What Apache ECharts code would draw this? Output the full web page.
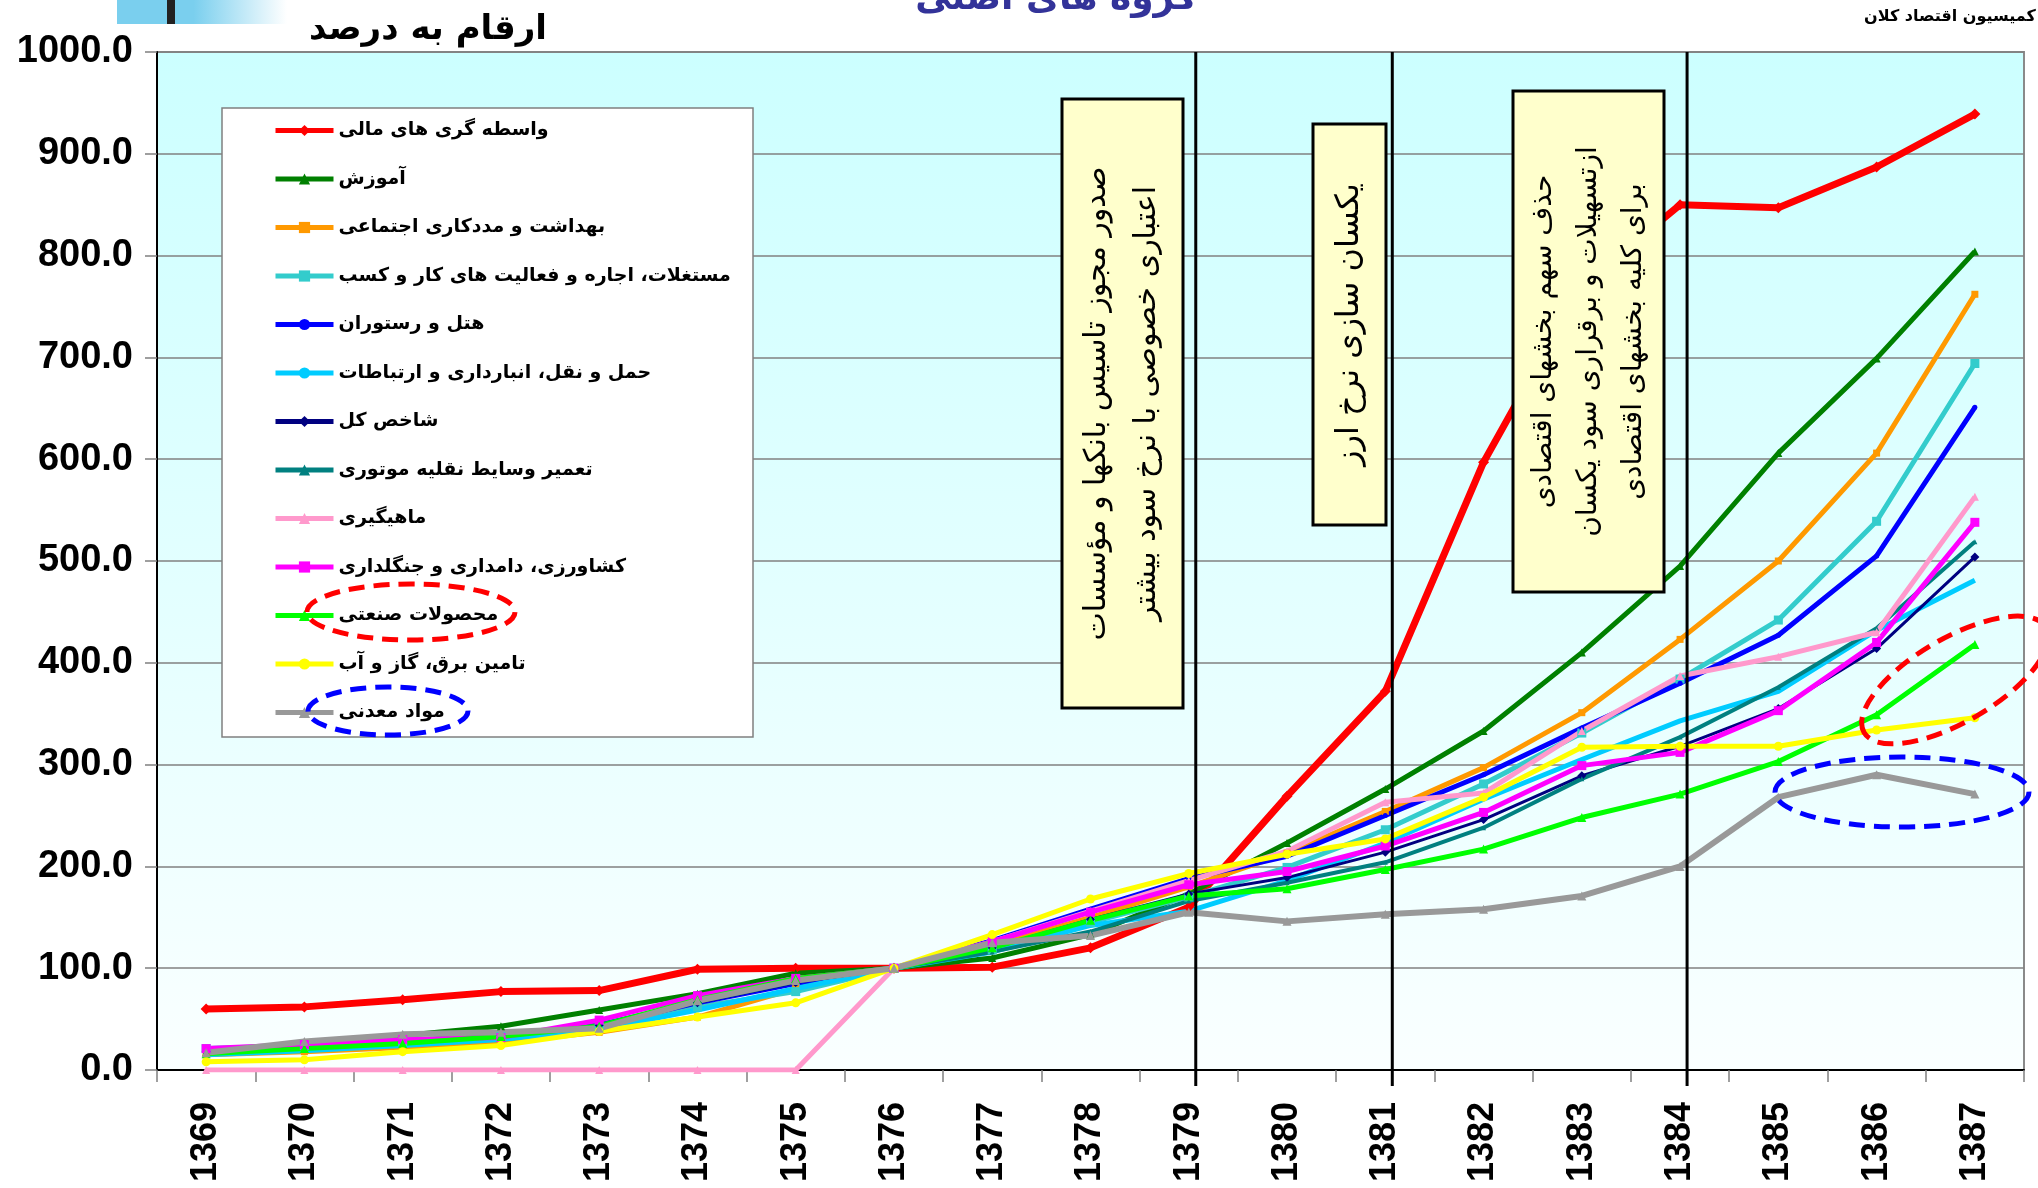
<!DOCTYPE html>
<html><head><meta charset="utf-8">
<script src="https://cdn.jsdelivr.net/npm/echarts@6/dist/echarts.min.js"></script>
<style>html,body{margin:0;padding:0;background:#fff}#c{width:2038px;height:1188px}</style>
</head><body><div id="c"></div>
<script>
const years = ['1369','1370','1371','1372','1373','1374','1375','1376','1377','1378','1379','1380','1381','1382','1383','1384','1385','1386','1387'];
const finance   = [60,62,69,77,78,99,100,100,101,120,160,269,372,597,770,850,847,887,939];
const education = [18,26,34,43,59,75,95,100,110,133,173,223,276,333,410,495,606,699,804];
const health    = [15,18,22,27,37,52,80,100,122,150,180,213,254,297,351,423,500,606,762];
const realEstate= [21,24,28,33,42,62,77,100,118,145,170,199,236,281,331,384,442,539,694];
const hotel     = [18,22,27,33,44,66,85,100,127,158,188,210,250,290,336,380,427,505,651];
const transport = [15,19,24,30,40,59,80,100,116,142,156,186,223,266,305,343,372,432,481];
const totalIdx  = [18,22,28,34,44,66,86,100,120,148,173,189,214,246,289,318,355,414,504];
const repair    = [18,23,29,35,45,67,87,100,116,136,166,184,204,238,286,327,376,434,519];
const fishing   = [0,0,0,0,0,0,0,100,126,156,186,215,263,272,333,387,406,430,563];
const agri      = [21,25,30,32,49,73,90,100,126,155,182,195,220,253,299,312,353,420,538];
const industry  = [16,21,26,33,43,69,90,100,120,147,171,178,197,217,248,271,303,349,418];
const utilities = [8,10,18,24,38,52,66,100,133,168,193,212,227,268,317,318,318,334,346];
const mining    = [17,28,35,37,41,68,88,100,125,132,155,146,153,158,171,200,268,290,271];
const yTicks = {min:0, max:1000, step:100};
const markYears = ['1379','1381','1384'];

const defs = [
 {name:'واسطه گری های مالی', data:finance, color:'#FF0000', w:7, sym:'diamond', size:11},
 {name:'آموزش', data:education, color:'#008000', w:5, sym:'triangle', size:8},
 {name:'بهداشت و مددکاری اجتماعی', data:health, color:'#FF9900', w:5, sym:'rect', size:7},
 {name:'مستغلات، اجاره و فعالیت های کار و کسب', data:realEstate, color:'#33CCCC', w:5, sym:'rect', size:9},
 {name:'هتل و رستوران', data:hotel, color:'#0000FF', w:5, sym:'circle', size:5},
 {name:'حمل و نقل، انبارداری و ارتباطات', data:transport, color:'#00CCFF', w:5, sym:'none', size:0},
 {name:'شاخص کل', data:totalIdx, color:'#000080', w:3, sym:'diamond', size:9},
 {name:'تعمیر وسایط نقلیه موتوری', data:repair, color:'#008080', w:4, sym:'triangle', size:5},
 {name:'ماهیگیری', data:fishing, color:'#FF99CC', w:5, sym:'triangle', size:8},
 {name:'کشاورزی، دامداری و جنگلداری', data:agri, color:'#FF00FF', w:5, sym:'rect', size:9},
 {name:'محصولات صنعتی', data:industry, color:'#00FF00', w:5, sym:'triangle', size:9},
 {name:'تامین برق، گاز و آب', data:utilities, color:'#FFFF00', w:5, sym:'circle', size:9},
 {name:'مواد معدنی', data:mining, color:'#999999', w:6, sym:'triangle', size:9}
];

const chart = echarts.init(document.getElementById('c'));
const AR = "'DejaVu Sans', sans-serif";

const series = defs.map((d,i)=>({
  name:d.name, type:'line', data:d.data,
  symbol:d.sym, symbolSize:d.size, showSymbol:d.sym!=='none',
  lineStyle:{color:d.color, width:d.w}, itemStyle:{color:d.color},
  emphasis:{disabled:true}, animation:false
}));

function dashedEllipse(cx,cy,rx,ry,rot,color){
  return {type:'ellipse', x:cx, y:cy, rotation:rot, shape:{cx:0,cy:0,rx:rx,ry:ry},
    style:{fill:'none', stroke:color, lineWidth:5, lineDash:[16,9]}, z:40};
}
function noteBox(x,y,w,h,text,fs,lh){
  return {type:'group', z:15, children:[
    {type:'rect', shape:{x:x,y:y,width:w,height:h}, style:{fill:'#FFFFCC', stroke:'#000', lineWidth:3}, z:15},
    {type:'text', x:x+w/2, y:y+h/2, rotation:Math.PI/2, z:16,
      style:{text:text, fontSize:fs, fontFamily:AR, align:'center', verticalAlign:'middle', lineHeight:lh, fill:'#000'}}
  ]};
}

const graphics = [
    {type:'rect', shape:{x:222,y:108,width:531,height:629}, style:{fill:'#fff', stroke:'#808080', lineWidth:1.5}, z:25},
    dashedEllipse(411,612,104,28,0,'#FF0000'),
    dashedEllipse(388,711,80,24,0,'#0000FF'),
    dashedEllipse(1955,680,105,42,Math.PI/6,'#FF0000'),
    dashedEllipse(1902,792,127,35,0,'#0000FF'),
    noteBox(1062,99,121,609,'صدور مجوز تاسیس بانکها و مؤسسات\nاعتباری خصوصی با نرخ سود بیشتر',30,50),
    noteBox(1313,124,73,401,'یکسان سازی نرخ ارز',32,40),
    noteBox(1513,91,151,501,'حذف سهم بخشهای اقتصادی\nازتسهیلات و برقراری سود یکسان\nبرای کلیه بخشهای اقتصادی',28,45),
    {type:'rect', shape:{x:117,y:0,width:170,height:24},
      style:{fill:new echarts.graphic.LinearGradient(0,0,1,0,[{offset:0,color:'#7ACFEE'},{offset:0.45,color:'#7ACFEE'},{offset:1,color:'#ffffff'}])}, z:1},
    {type:'rect', shape:{x:167,y:0,width:8,height:24}, style:{fill:'#222'}, z:2},
    {type:'text', x:428, y:30, z:5, style:{text:'ارقام به درصد', fontSize:34, fontWeight:'bold', fontFamily:AR, align:'center', verticalAlign:'middle', fill:'#000'}},
    {type:'text', x:1056, y:0, z:5, style:{text:'گروه های اصلی', fontSize:36, fontWeight:'bold', fontFamily:AR, align:'center', verticalAlign:'middle', fill:'#333399'}},
    {type:'text', x:1950, y:17, z:5, style:{text:'کمیسیون اقتصاد کلان', fontSize:16, fontWeight:'bold', fontFamily:AR, align:'center', verticalAlign:'middle', fill:'#000'}}
];

chart.setOption({
  animation:false,
  grid:{left:157, right:14, top:52, bottom:118, show:true,
    backgroundColor:new echarts.graphic.LinearGradient(0,0,0,1,[{offset:0,color:'#CCFFFF'},{offset:0.55,color:'#E4FFFF'},{offset:1,color:'#FAFFFF'}]),
    borderColor:'#8a8a8a', borderWidth:2},
  xAxis:{type:'category', data:years, boundaryGap:true,
    axisLine:{lineStyle:{color:'#000', width:2}},
    axisTick:{show:true, length:12, lineStyle:{color:'#808080', width:1.5}},
    axisLabel:{rotate:90, interval:0, margin:32, fontSize:36, fontWeight:'bold', color:'#000', fontFamily:'Liberation Sans'},
    splitLine:{show:false}},
  yAxis:{type:'value', min:yTicks.min, max:yTicks.max, interval:yTicks.step,
    axisLine:{show:true, lineStyle:{color:'#000', width:2}},
    axisTick:{show:true, length:12, lineStyle:{color:'#808080', width:1.5}},
    axisLabel:{formatter:v=>v.toFixed(1), fontSize:38, fontWeight:'bold', color:'#000', fontFamily:'Liberation Sans', margin:24},
    splitLine:{lineStyle:{color:'#808080', width:1.5}}},
  legend:{orient:'vertical', left:268, top:116, itemWidth:58, itemHeight:14, itemGap:29.5,
    selectedMode:false, z:30,
    lineStyle:{width:5},
    textStyle:{fontSize:19, fontWeight:'bold', fontFamily:AR, color:'#000'},
    data:defs.map(d=>d.name)},
  series:series,
  graphic:graphics
});

// vertical event lines (slightly right of the category centre, extending below the axis as in the original)
const yTop = chart.convertToPixel({yAxisIndex:0}, yTicks.max);
const yBot = chart.convertToPixel({yAxisIndex:0}, yTicks.min);
markYears.forEach(y=>{
  const px = chart.convertToPixel({xAxisIndex:0}, y) + 7;
  graphics.push({type:'line', shape:{x1:px, y1:yTop, x2:px, y2:yBot+16}, style:{stroke:'#000', lineWidth:3}, z:12});
});
chart.setOption({graphic:graphics});
</script></body></html>
